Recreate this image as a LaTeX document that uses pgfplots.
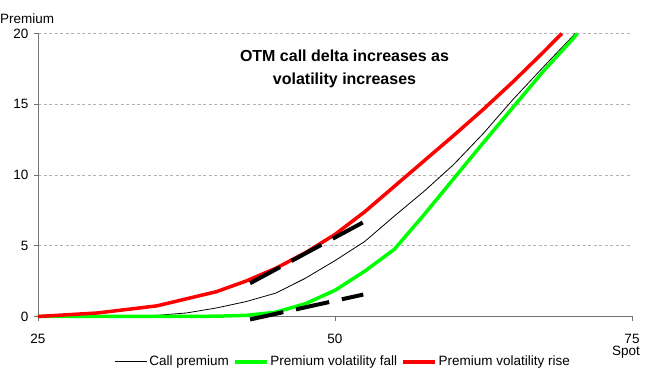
\documentclass[border=0pt]{standalone}
\usepackage{fontspec}
\setmainfont{Liberation Sans}
\usepackage{pgfplots}
\pgfplotsset{compat=1.18}
\newcommand{\fs}{\fontsize{13.5}{16}\selectfont}
\begin{document}
\begin{tikzpicture}
\begin{axis}[
  scale only axis, width=594pt, height=283pt,
  xmin=25, xmax=75, ymin=0, ymax=20,
  axis x line*=bottom, axis y line*=left,
  axis line style={draw=gray!90!black, line width=0.8pt},
  xtick={25,50,75}, ytick={0,5,10,15,20},
  tick align=outside, major tick length=4pt,
  tick style={draw=gray!90!black, line width=0.8pt},
  ymajorgrids, grid style={draw=gray!60, dash pattern=on 3pt off 2.5pt, line width=0.7pt},
  /pgf/number format/assume math mode=true,
  every tick label/.append style={font=\fs},
  xticklabel style={yshift=-10pt},
  yticklabel style={xshift=-2pt},
  clip=false,
  legend columns=3,
  legend style={at={(rel axis cs:0.514,-0.16)}, anchor=center, draw=none, fill=none, font=\fs,
    inner sep=0pt, /tikz/every even column/.append style={column sep=2pt}},
  legend image code/.code={\draw[#1] (0pt,0pt) -- (32pt,0pt);},
]
\addplot[black, line width=0.8pt] coordinates {
(25,0) (30,0.01) (35,0.08) (37.5,0.25) (40,0.6) (42.5,1.05) (45,1.65) (47.5,2.7) (50,3.95)
(52.5,5.3) (55,7.1) (57.5,8.85) (60,10.75) (62.5,12.95) (65,15.35) (67.5,17.6) (70,19.8) (70.2,20)};
\addlegendentry{Call premium}
\addplot[color={rgb,255:red,0;green,255;blue,0}, line width=3.5pt] coordinates {
(25,0) (30,0) (35,0) (40,0.02) (42.5,0.08) (45,0.3) (47.5,0.9) (50,1.85) (52.5,3.2)
(55,4.75) (57.5,7.2) (60,9.75) (62.5,12.3) (65,14.8) (67.5,17.3) (70,19.6) (70.4,20)};
\addlegendentry{Premium volatility fall}
\addplot[color={rgb,255:red,255;green,0;blue,0}, line width=3.5pt] coordinates {
(25,0) (30,0.25) (35,0.75) (40,1.75) (42.5,2.5) (45,3.4) (47.5,4.5) (50,5.8) (52.5,7.4)
(55,9.2) (57.5,11.0) (60,12.8) (62.5,14.65) (65,16.6) (67.5,18.65) (69.1,20)};
\addlegendentry{Premium volatility rise}
\addplot[black, line width=4pt, dash pattern=on 34pt off 13pt, forget plot] coordinates {(42.85,2.35) (52.38,6.66)};
\addplot[black, line width=4pt, dash pattern=on 34pt off 13pt, forget plot] coordinates {(42.85,-0.21) (52.38,1.55)};
\node[align=center, font=\bfseries\fontsize{16}{23}\selectfont] at (axis cs:50.8,17.5)
  {OTM call delta increases as\\volatility increases};
\end{axis}
\node[anchor=west, font=\fs, inner sep=0pt] at (-38pt,298pt) {Premium};
\node[font=\fs, inner sep=0pt] at (588pt,-36pt) {Spot};
\path[use as bounding box] (-38pt,-51pt) rectangle (607pt,316.5pt);
\end{tikzpicture}
\end{document}
